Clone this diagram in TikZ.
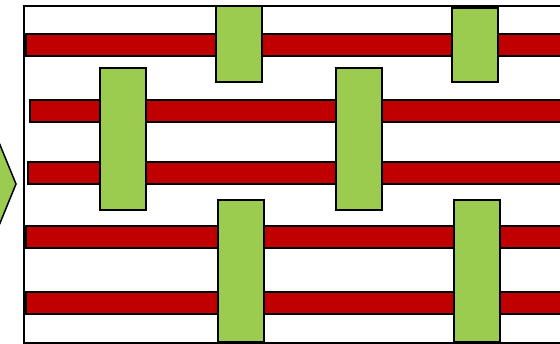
\documentclass[tikz,border=0pt]{standalone}
\definecolor{barred}{RGB}{192,0,0}
\definecolor{boxgreen}{RGB}{155,204,80}
\tikzset{
  redbar/.style={draw=black, line width=1.5pt, fill=barred},
  greenbox/.style={draw=black, line width=1.5pt, fill=boxgreen},
  frameline/.style={draw=black, line width=1.5pt},
}
\begin{document}
\begin{tikzpicture}[x=1pt,y=-1pt]
\useasboundingbox (0,0) rectangle (560,344);
\begin{scope}
\clip (0,0) rectangle (560,344);
% left chevron
\filldraw[greenbox] (-20,96) -- (16,184) -- (-20,272) -- cycle;
% frame
\draw[frameline] (600,6) -- (24,6) -- (24,343) -- (600,343);
% red bars
\draw[redbar] (26,34) rectangle (600,56);
\draw[redbar] (30,100) rectangle (600,122);
\draw[redbar] (28,162) rectangle (600,184);
\draw[redbar] (26,226) rectangle (600,248);
\draw[redbar] (26,292) rectangle (600,314);
% green boxes
\draw[greenbox] (216,6) rectangle (262,82);
\draw[greenbox] (452,8) rectangle (498,82);
\draw[greenbox] (100,68) rectangle (146,210);
\draw[greenbox] (336,68) rectangle (382,210);
\draw[greenbox] (218,200) rectangle (264,342);
\draw[greenbox] (454,200) rectangle (500,342);
\end{scope}
\end{tikzpicture}
\end{document}
